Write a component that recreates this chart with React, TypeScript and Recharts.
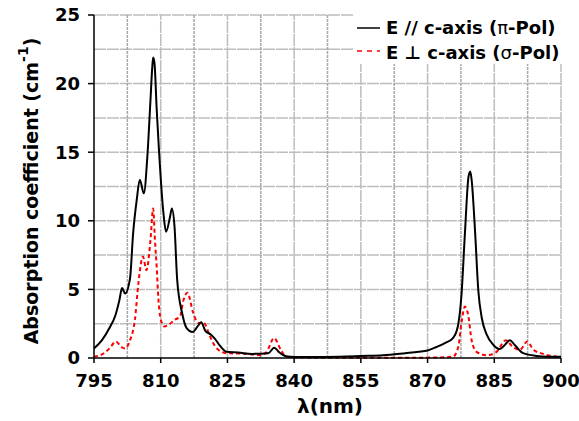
import { LineChart, Line, XAxis, YAxis, ReferenceLine } from "recharts";

// wavelength (nm) and absorption (cm-1)
const piWavelength = [795, 796.8, 798.5, 799.8, 800.7, 801.3, 802.0, 803.1, 803.8, 804.6, 805.3, 806.2, 807.0, 807.7, 808.1, 808.3, 808.6, 809.1, 809.6, 810.6, 811.2, 812.1, 812.5, 813.1, 813.7, 814.8, 815.8, 817.2, 818.5, 819.1, 820.0, 821.3, 822.2, 823.3, 824.8, 827.4, 830.5, 834.2, 835.5, 836.7, 838.2, 840, 845, 850, 855, 860, 865, 868, 870, 872, 874, 875.7, 876.8, 877.6, 878.4, 879.2, 879.6, 879.9, 880.7, 881.4, 882.2, 883.3, 884.8, 886.2, 887.2, 888.5, 889.6, 891.5, 894.5, 897, 900];
const piValues = [0.7, 1.3, 2.2, 3.1, 4.2, 5.1, 4.7, 5.8, 9.1, 11.5, 13.0, 12.0, 14.7, 18.8, 21.2, 21.9, 21.5, 18.1, 15.2, 10.6, 9.2, 10.3, 10.9, 9.6, 5.7, 3.3, 2.2, 1.9, 2.4, 2.6, 2.0, 1.7, 1.4, 0.9, 0.45, 0.4, 0.3, 0.35, 0.75, 0.4, 0.12, 0.08, 0.08, 0.1, 0.15, 0.2, 0.35, 0.45, 0.55, 0.8, 1.1, 1.45, 2.3, 4.5, 9.1, 13.2, 13.6, 13.0, 9.1, 4.95, 2.9, 1.7, 0.95, 0.65, 0.9, 1.3, 0.95, 0.35, 0.15, 0.1, 0.1];

const sigmaWavelength = [795, 797, 798.5, 799.9, 801.2, 802.0, 803.1, 804.2, 805.0, 806.0, 806.8, 807.7, 808.3, 808.7, 809.1, 809.5, 810.2, 810.8, 811.7, 813.2, 814.3, 815.1, 816.0, 817.3, 818.4, 819.7, 821.1, 822.6, 824.8, 829.3, 832.3, 833.7, 835.5, 837.0, 838.2, 840, 860, 872, 875.7, 876.9, 877.6, 878.4, 879.2, 879.9, 881.0, 883.3, 885.5, 887.6, 889.2, 890.8, 892.4, 893.8, 896.0, 900];
const sigmaValues = [0.1, 0.3, 0.7, 1.2, 0.8, 0.7, 1.3, 2.8, 5.5, 7.4, 6.4, 8.6, 10.9, 8.6, 6.6, 4.2, 2.6, 2.3, 2.4, 2.8, 3.0, 4.2, 4.75, 3.3, 2.55, 2.55, 1.55, 0.7, 0.35, 0.3, 0.2, 0.4, 1.45, 0.6, 0.1, 0.03, 0.02, 0.03, 0.1, 0.8, 2.5, 3.75, 3.0, 1.3, 0.45, 0.2, 0.45, 1.3, 0.8, 0.6, 1.2, 0.6, 0.3, 0.05];

const xTicks = [795, 810, 825, 840, 855, 870, 885, 900];
const xMajorGrid = [810, 825, 840, 855, 870, 885, 900];
const xMinorGrid = [802.5, 817.5, 832.5, 847.5, 862.5, 877.5, 892.5];
const yTicks = [0, 5, 10, 15, 20, 25];
const yGrid = [2.5, 5, 7.5, 10, 12.5, 15, 17.5, 20, 22.5, 25];

// merge both series on one x grid, gaps bridged with connectNulls
const allWl = Array.from(new Set([...piWavelength, ...sigmaWavelength])).sort((a, b) => a - b);
const data = allWl.map(wl => {
  const p = piWavelength.indexOf(wl);
  const s = sigmaWavelength.indexOf(wl);
  return {
    wl,
    pi: p >= 0 ? piValues[p] : null,
    sigma: s >= 0 ? sigmaValues[s] : null,
  };
});

const font = "'DejaVu Sans', Verdana, sans-serif";
const tickStyle = { fontFamily: font, fontWeight: "bold", fontSize: 18, fill: "#000" };

const YLabel = () => (
  <text
    x={31}
    y={191}
    transform="rotate(-90 31 191)"
    textAnchor="middle"
    dominantBaseline="central"
    style={{ fontFamily: font, fontWeight: "bold", fontSize: 19, fill: "#000" }}
  >
    Absorption coefficient (cm
    <tspan dy={-8} fontSize={14}>-1</tspan>
    <tspan dy={8}>)</tspan>
  </text>
);

const XLabel = () => (
  <text x={330} y={413} textAnchor="middle" style={{ fontFamily: font, fontWeight: "bold", fontSize: 20, fill: "#000" }}>
    λ(nm)
  </text>
);

const LegendBox = () => (
  <div style={{ position: "absolute", left: 354, top: 0, width: 225, height: 64, background: "#fff", fontFamily: font, fontWeight: "bold", fontSize: 18, color: "#000", lineHeight: "25px", paddingTop: 15, boxSizing: "border-box" }}>
    <div style={{ display: "flex", alignItems: "center" }}>
      <svg width={26} height={10}><line x1={3} y1={5} x2={26} y2={5} stroke="#000" strokeWidth={1.5} /></svg>
      <span style={{ marginLeft: 6 }}>E // c-axis (<span style={{ fontWeight: "normal" }}>π</span>-Pol)</span>
    </div>
    <div style={{ display: "flex", alignItems: "center" }}>
      <svg width={26} height={10}><line x1={3} y1={3} x2={26} y2={3} stroke="#f00" strokeWidth={1.5} strokeDasharray="5 5" /></svg>
      <span style={{ marginLeft: 6 }}>E ⊥ c-axis (<span style={{ fontWeight: "normal" }}>σ</span>-Pol)</span>
    </div>
  </div>
);

export default function App() {
  return (
    <div style={{ position: "absolute", left: 0, top: 0, width: 579, height: 421, background: "#fff" }}>
      <LineChart width={579} height={421} data={data} margin={{ top: 15, right: 18, left: 0, bottom: 0 }}>
        {yGrid.map(v => (
          <ReferenceLine key={"h" + v} y={v} stroke="#bdbdbd" strokeWidth={1.5} strokeDasharray="12 1" />
        ))}
        {xMajorGrid.map(v => (
          <ReferenceLine key={"v" + v} x={v} stroke="#bdbdbd" strokeWidth={1.5} strokeDasharray="12 1" />
        ))}
        {xMinorGrid.map(v => (
          <ReferenceLine key={"m" + v} x={v} stroke="#a8a8a8" strokeWidth={1.5} strokeDasharray="3 1" />
        ))}
        <XAxis
          dataKey="wl"
          type="number"
          domain={[795, 900]}
          ticks={xTicks}
          height={63}
          tickSize={5}
          tickMargin={11}
          stroke="#000"
          strokeWidth={1.5}
          tick={tickStyle}
          label={<XLabel />}
        />
        <YAxis
          type="number"
          domain={[0, 25]}
          ticks={yTicks}
          width={94}
          tickSize={6}
          tickMargin={8}
          stroke="#000"
          strokeWidth={1.5}
          tick={tickStyle}
          label={<YLabel />}
        />
        <Line type="monotone" dataKey="sigma" stroke="#f00" strokeWidth={2} strokeDasharray="4 3" dot={false} connectNulls isAnimationActive={false} />
        <Line type="monotone" dataKey="pi" stroke="#000" strokeWidth={2} dot={false} connectNulls isAnimationActive={false} />
      </LineChart>
      <LegendBox />
    </div>
  );
}
